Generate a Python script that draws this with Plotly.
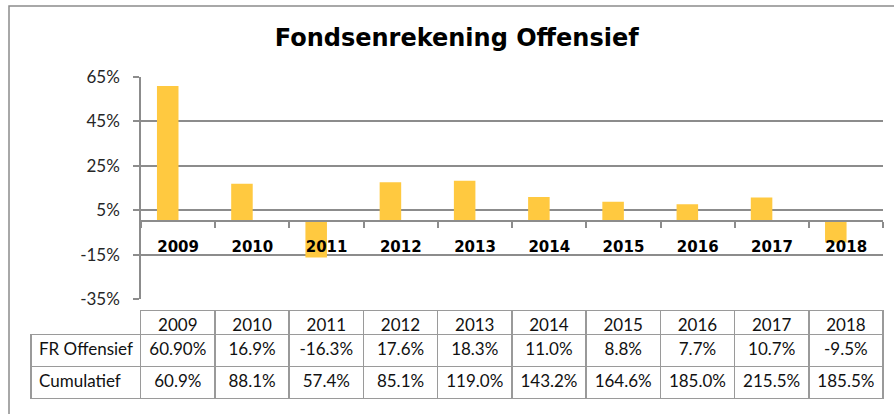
import plotly.graph_objects as go

years = ["2009", "2010", "2011", "2012", "2013", "2014", "2015", "2016", "2017", "2018"]
fr_offensief = [60.9, 16.9, -16.3, 17.6, 18.3, 11.0, 8.8, 7.7, 10.7, -9.5]
fr_offensief_text = ["60.90%", "16.9%", "-16.3%", "17.6%", "18.3%", "11.0%", "8.8%", "7.7%", "10.7%", "-9.5%"]
cumulatief_text = ["60.9%", "88.1%", "57.4%", "85.1%", "119.0%", "143.2%", "164.6%", "185.0%", "215.5%", "185.5%"]
row_labels = ["FR\u00a0Offensief", "Cumulatief"]
y_tick_vals = [-35, -15, 5, 25, 45, 65]
y_tick_text = ["-35%", "-15%", "5%", "25%", "45%", "65%"]
title = "Fondsenrekening Offensief"

W, H = 894, 414
y_min, y_max = -35, 65
xdom = [141 / W, 883.3 / W]
ydom = [1 - 299 / H, 1 - 77 / H]
x_axis_pos = ydom[0] + (0 - y_min) / (y_max - y_min) * (ydom[1] - ydom[0])

GRID = "#8c8c8c"
TABLE_LINE = "#9a9a9a"

fig = go.Figure()
fig.add_trace(go.Bar(
    x=years, y=fr_offensief, name="FR Offensief",
    marker=dict(color="#FFC940", line=dict(width=0)),
    width=0.29, offset=-0.285, showlegend=False, hoverinfo="x+y",
))

header_vals = [""] + years
cell_vals = [row_labels] + [[a, b] for a, b in zip(fr_offensief_text, cumulatief_text)]
fig.add_trace(go.Table(
    domain=dict(x=[31 / W, 883.3 / W], y=[1 - 400 / H, 1 - 310.7 / H]),
    columnwidth=[109.7] + [74.23] * len(years),
    header=dict(
        values=header_vals, height=24,
        align="center",
        line=dict(color=["rgba(0,0,0,0)"] + [TABLE_LINE] * len(years), width=1.5),
        fill=dict(color=["rgba(0,0,0,0)"] + ["white"] * len(years)),
        font=dict(family="Lato", size=17, color="#111"),
    ),
    cells=dict(
        values=cell_vals, height=32,
        align=["left"] + ["center"] * len(years),
        line=dict(color=TABLE_LINE, width=1.5),
        fill=dict(color="white"),
        font=dict(family="Lato", size=17, color="#111"),
    ),
))

fig.update_layout(
    width=W, height=H,
    margin=dict(l=0, r=0, t=0, b=0, pad=0, autoexpand=False),
    paper_bgcolor="white", plot_bgcolor="white",
    title=dict(text="<b>" + title + "</b>", x=456.7 / W, y=1 - 38 / H,
               xanchor="center", yanchor="middle", automargin=False,
               font=dict(family="DejaVu Sans", size=24, color="black")),
    xaxis=dict(
        domain=xdom, type="category", range=[-0.5, len(years) - 0.5],
        anchor="free", position=x_axis_pos, automargin=False,
        showline=True, linecolor=GRID, linewidth=1.5,
        ticks="outside", tickson="boundaries", ticklen=6, tickcolor=GRID, tickwidth=1.5,
        showgrid=False, ticklabelstandoff=12,
        tickfont=dict(family="DejaVu Sans", size=15, color="black", weight="bold"),
    ),
    yaxis=dict(
        domain=ydom, range=[y_min, y_max], tickvals=y_tick_vals, ticktext=y_tick_text,
        automargin=False,
        showline=True, linecolor=GRID, linewidth=1.5,
        ticks="outside", ticklen=6, tickcolor=GRID, tickwidth=1.5,
        showgrid=True, gridcolor=GRID, gridwidth=1.5, zeroline=False,
        ticklabelstandoff=10,
        tickfont=dict(family="Lato", size=17, color="#262626"),
    ),
    shapes=[dict(type="rect", xref="paper", yref="paper",
                 x0=9 / W, x1=1.2, y0=-0.2, y1=1 - 6 / H,
                 line=dict(color=GRID, width=1.5), fillcolor="rgba(0,0,0,0)", layer="below")],
)

fig.write_html("out.html", config={"displayModeBar": False},
               post_script="document.body.style.margin='0';document.body.style.overflow='hidden';")
